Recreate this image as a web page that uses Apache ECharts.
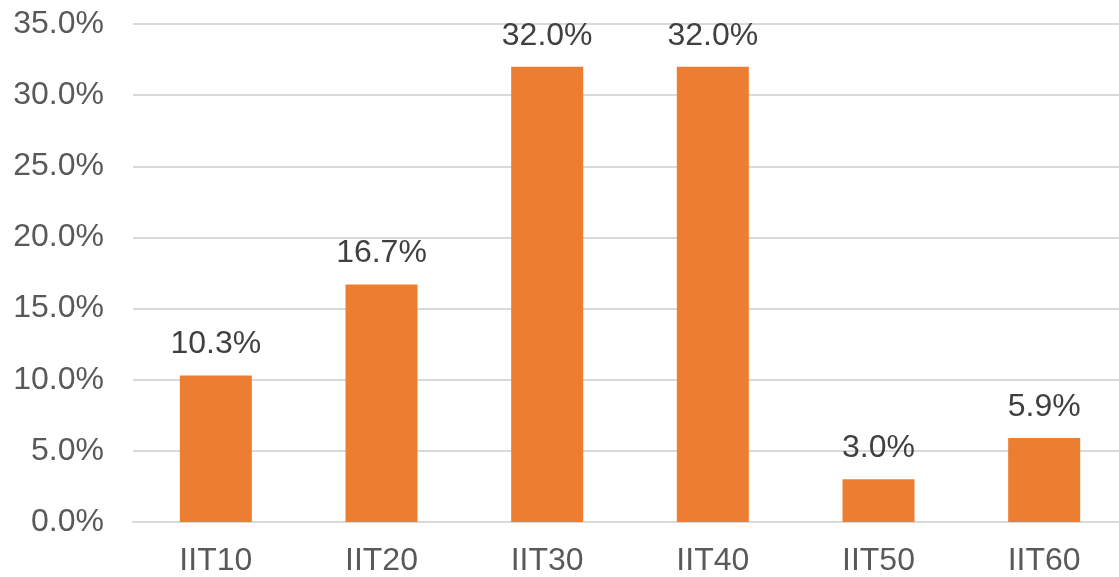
<!DOCTYPE html>
<html>
<head>
<meta charset="utf-8">
<script src="https://cdn.jsdelivr.net/npm/echarts@6/dist/echarts.min.js"></script>
<style>
  html, body { margin: 0; padding: 0; background: #fff; overflow: hidden; }
  /* plot area runs a few pixels past the right edge of the window */
  #chart { width: 1127px; height: 577px; }
</style>
</head>
<body>
<div id="chart"></div>
<script>
// Share of entries per IIT group (percent)
const categories = ['IIT10', 'IIT20', 'IIT30', 'IIT40', 'IIT50', 'IIT60'];
const shares = [10.3, 16.7, 32.0, 32.0, 3.0, 5.9];

const axisTextColor = '#595959';
const valueTextColor = '#404040';
const fontFamily = '"Liberation Sans", Arial, sans-serif';

const chart = echarts.init(document.getElementById('chart'), null, { renderer: 'canvas' });
chart.setOption({
  animation: false,
  backgroundColor: '#ffffff',
  grid: { left: 133, top: 24, right: 0, height: 500, containLabel: false },
  xAxis: {
    type: 'category',
    data: categories,
    axisLine: { show: true, lineStyle: { color: '#d9d9d9', width: 2 } },
    axisTick: { show: false },
    axisLabel: { color: axisTextColor, fontSize: 32, fontFamily: fontFamily, margin: 23 }
  },
  yAxis: {
    type: 'value',
    min: 0,
    max: 35,
    interval: 5,
    axisLine: { show: false },
    axisTick: { show: false },
    splitLine: { lineStyle: { color: '#d9d9d9', width: 2 } },
    axisLabel: {
      color: axisTextColor, fontSize: 32, fontFamily: fontFamily, margin: 29,
      formatter: v => v.toFixed(1) + '%'
    }
  },
  series: [{
    type: 'bar',
    data: shares,
    barWidth: 72,
    itemStyle: { color: '#ED7D31' },
    label: {
      show: true,
      position: 'top',
      distance: 15,
      color: valueTextColor,
      fontSize: 32,
      fontFamily: fontFamily,
      formatter: p => p.value.toFixed(1) + '%'
    }
  }]
});
</script>
</body>
</html>
